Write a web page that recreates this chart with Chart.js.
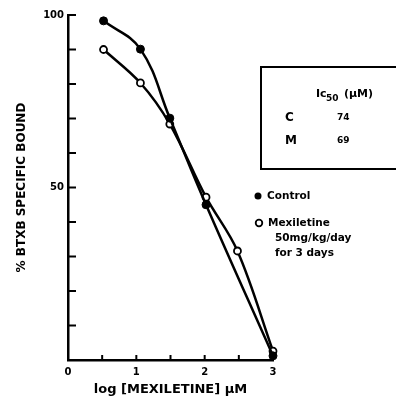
<!DOCTYPE html>
<html>
<head>
<meta charset="utf-8">
<script src="https://cdn.jsdelivr.net/npm/chart.js@4.4.0/dist/chart.umd.min.js"></script>
<style>
  body { margin: 0; background: #fff; }
  #wrap { width: 396px; height: 401px; position: relative; }
</style>
</head>
<body>
<div id="wrap"><canvas id="myChart" width="396" height="401"></canvas></div>
<script>
// log [mexiletine] uM vs % BTXB specific bound
var controlX = [0.52, 1.06, 1.49, 2.02, 3.0];
var controlY = [98.3, 90.1, 70.1, 45.0, 1.2];
var mexX = [0.52, 1.06, 1.49, 2.02, 2.48, 3.0];
var mexY = [90.0, 80.3, 68.4, 47.2, 31.6, 2.6];

var xTickLabels = [0, 1, 2, 3];
var xMinorTicks = [0.5, 1, 1.5, 2, 2.5, 3];
var yTickLabels = [50, 100];
var yMinorTicks = [10, 20, 30, 40, 50, 60, 70, 80, 90, 100];

var legendNames = ['Control', 'Mexiletine', '50mg/kg/day', 'for 3 days'];
var ic50Rows = ['C', 'M'];
var ic50Values = ['74', '69'];

var FONT = '"DejaVu Sans", sans-serif';

function toPoints(xs, ys) {
    return xs.map(function (x, i) { return {x: x, y: ys[i]}; });
}

var extras = {
    id: 'extras',
    afterDraw: function (chart) {
        var ctx = chart.ctx;
        var xs = chart.scales.x, ys = chart.scales.y;
        var x0 = xs.getPixelForValue(0);
        var y0 = ys.getPixelForValue(0);
        ctx.save();
        ctx.strokeStyle = '#000';
        ctx.lineWidth = 2;
        // inward tick marks
        yMinorTicks.forEach(function (v) {
            var py = ys.getPixelForValue(v);
            ctx.beginPath(); ctx.moveTo(x0, py); ctx.lineTo(x0 + 8, py); ctx.stroke();
        });
        xMinorTicks.forEach(function (v) {
            var px = xs.getPixelForValue(v);
            ctx.beginPath(); ctx.moveTo(px, y0); ctx.lineTo(px, y0 - 5); ctx.stroke();
        });

        // IC50 box
        ctx.lineWidth = 2;
        ctx.strokeRect(261, 67, 140, 102);
        ctx.fillStyle = '#000';
        ctx.textBaseline = 'middle';
        ctx.textAlign = 'left';
        ctx.font = 'bold 11px ' + FONT;
        ctx.fillText('Ic', 316, 94);
        ctx.font = 'bold 9px ' + FONT;
        ctx.fillText('50', 326, 99);
        ctx.font = 'bold 11px ' + FONT;
        ctx.fillText('(\u00b5M)', 344, 94);
        ic50Rows.forEach(function (r, i) {
            var py = 118 + i * 23;
            ctx.font = 'bold 12px ' + FONT;
            ctx.fillText(r, 285, py);
            ctx.font = 'bold 9px ' + FONT;
            ctx.fillText(ic50Values[i], 337, py);
        });

        // legend
        ctx.font = 'bold 10.5px ' + FONT;
        ctx.beginPath(); ctx.arc(258, 196, 3.5, 0, Math.PI * 2); ctx.fill();
        ctx.fillText(legendNames[0], 267, 196);
        ctx.beginPath(); ctx.arc(259, 223, 3.3, 0, Math.PI * 2);
        ctx.fillStyle = '#fff'; ctx.fill();
        ctx.lineWidth = 1.8; ctx.stroke();
        ctx.fillStyle = '#000';
        ctx.fillText(legendNames[1], 268, 223);
        ctx.fillText(legendNames[2], 275, 238);
        ctx.fillText(legendNames[3], 275, 253);
        ctx.restore();
    }
};

var data = {
    datasets: [
        {
            label: 'Control',
            data: toPoints(controlX, controlY),
            borderColor: '#000',
            backgroundColor: '#000',
            borderWidth: 2.5,
            pointRadius: 4,
            pointBorderWidth: 1,
            pointBackgroundColor: '#000',
            tension: 0.4,
            clip: false
        },
        {
            label: 'Mexiletine',
            data: toPoints(mexX, mexY),
            borderColor: '#000',
            backgroundColor: '#fff',
            borderWidth: 2.5,
            pointRadius: 3.5,
            pointBorderWidth: 1.8,
            pointBackgroundColor: '#fff',
            tension: 0.35,
            clip: false
        }
    ]
};

var options = {
    responsive: false,
    animation: false,
    layout: { padding: { left: 10, right: 123, top: 15, bottom: 0 } },
    plugins: { legend: { display: false }, tooltip: { enabled: false } },
    scales: {
        x: {
            type: 'linear',
            min: 0,
            max: 3,
            grid: { display: false, drawTicks: false },
            border: { display: true, color: '#000', width: 2.5 },
            ticks: {
                stepSize: 1,
                padding: 6,
                color: '#000',
                font: { family: FONT, weight: 'bold', size: 10 },
                callback: function (v) { return xTickLabels.indexOf(v) >= 0 ? String(v) : ''; }
            },
            title: {
                display: true,
                text: 'log [MEXILETINE] \u00b5M',
                color: '#000',
                font: { family: FONT, weight: 'bold', size: 13 },
                padding: { top: 0, bottom: 4 }
            },
            afterFit: function (scale) { scale.height = 41; }
        },
        y: {
            min: 0,
            max: 100,
            grid: { display: false, drawTicks: false },
            border: { display: true, color: '#000', width: 2.5 },
            ticks: {
                stepSize: 50,
                padding: 4,
                color: '#000',
                font: { family: FONT, weight: 'bold', size: 10 },
                callback: function (v) { return yTickLabels.indexOf(v) >= 0 ? String(v) : ''; }
            },
            title: {
                display: true,
                text: '% BTXB SPECIFIC BOUND',
                color: '#000',
                font: { family: FONT, weight: 'bold', size: 12 },
                padding: { top: 5, bottom: 0 }
            },
            afterFit: function (scale) { scale.width = 58; }
        }
    }
};

var ctx = document.getElementById('myChart');
var chart = new Chart(ctx, {
    type: 'line',
    data: data,
    options: options,
    plugins: [extras]
});
</script>
</body>
</html>
